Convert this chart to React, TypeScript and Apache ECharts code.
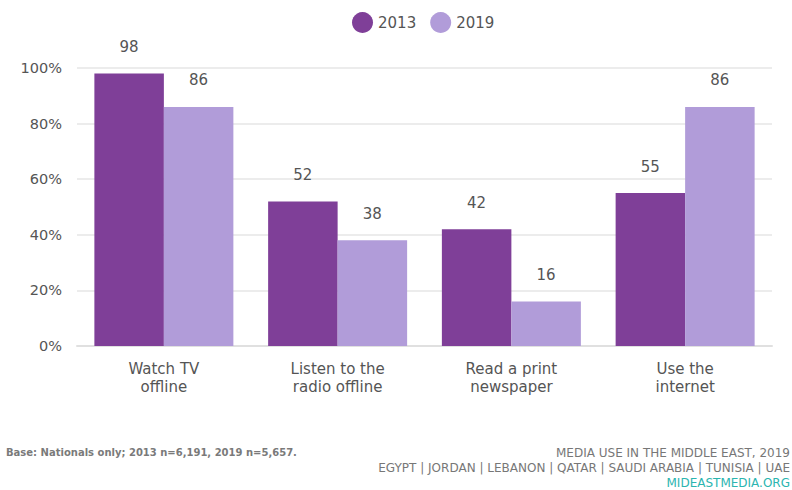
import React, { useEffect, useRef } from "react";
import * as echarts from "echarts";

const categories = ["Watch TV\noffline", "Listen to the\nradio offline", "Read a print\nnewspaper", "Use the\ninternet"];
const values2013 = [98, 52, 42, 55];
const values2019 = [86, 38, 16, 86];
const seriesNames = ["2013", "2019"];
const colors = ["#7f3f98", "#b19cd9"];
const footnote = "Base: Nationals only; 2013 n=6,191, 2019 n=5,657.";
const sourceLines = ["MEDIA USE IN THE MIDDLE EAST, 2019", "EGYPT | JORDAN | LEBANON | QATAR | SAUDI ARABIA | TUNISIA | UAE", "MIDEASTMEDIA.ORG"];

const FONT = "'DejaVu Sans', sans-serif";

export default function App() {
  const ref = useRef<HTMLDivElement>(null);
  useEffect(() => {
    if (!ref.current) return;
    const chart = echarts.init(ref.current, null, { renderer: "svg" });
    const mkSeries = (name: string, data: number[], color: string) => ({
      name,
      type: "bar",
      data,
      barGap: "0%",
      barCategoryGap: "20%",
      itemStyle: { color },
      label: {
        show: true,
        position: "top",
        distance: 19,
        color: "#555",
        fontSize: 15,
        fontFamily: FONT,
      },
    });
    const footStyle = (text: string, fill: string) => ({
      text,
      fill,
      fontSize: 12,
      lineHeight: 14,
      fontFamily: FONT,
      align: "right",
      verticalAlign: "middle",
    });
    chart.setOption({
      animation: false,
      textStyle: { fontFamily: FONT },
      legend: {
        top: 7,
        left: 347,
        icon: "circle",
        itemWidth: 21,
        itemHeight: 21,
        itemGap: 14,
        textStyle: { color: "#555", fontSize: 15, fontFamily: FONT },
        data: seriesNames,
      },
      grid: { left: 77, right: 20, top: 68, bottom: 144, containLabel: false },
      xAxis: {
        type: "category",
        data: categories,
        axisLine: { lineStyle: { color: "#e0e0e0", width: 2 } },
        axisTick: { show: false },
        axisLabel: { color: "#555", fontSize: 15, lineHeight: 18, margin: 14, fontFamily: FONT },
      },
      yAxis: {
        type: "value",
        min: 0,
        max: 100,
        interval: 20,
        axisLine: { show: false },
        axisTick: { show: false },
        splitLine: { lineStyle: { color: "#e6e6e6", width: 1.5 } },
        axisLabel: { color: "#555", fontSize: 14.5, margin: 15, formatter: "{value}%", fontFamily: FONT },
      },
      series: [
        mkSeries(seriesNames[0], values2013, colors[0]),
        mkSeries(seriesNames[1], values2019, colors[1]),
      ],
      graphic: [
        {
          type: "text",
          x: 6,
          y: 452,
          style: { text: footnote, fill: "#7a7a7a", fontSize: 10, fontWeight: "bold", fontFamily: FONT, verticalAlign: "middle" },
        },
        { type: "text", x: 790, y: 453, style: footStyle(sourceLines[0], "#777") },
        { type: "text", x: 790, y: 468, style: footStyle(sourceLines[1], "#777") },
        { type: "text", x: 790, y: 483, style: footStyle(sourceLines[2], "#2bb5b0") },
      ],
    });
    return () => chart.dispose();
  }, []);
  return <div ref={ref} style={{ width: 792, height: 490, position: "absolute", left: 0, top: 0 }} />;
}
